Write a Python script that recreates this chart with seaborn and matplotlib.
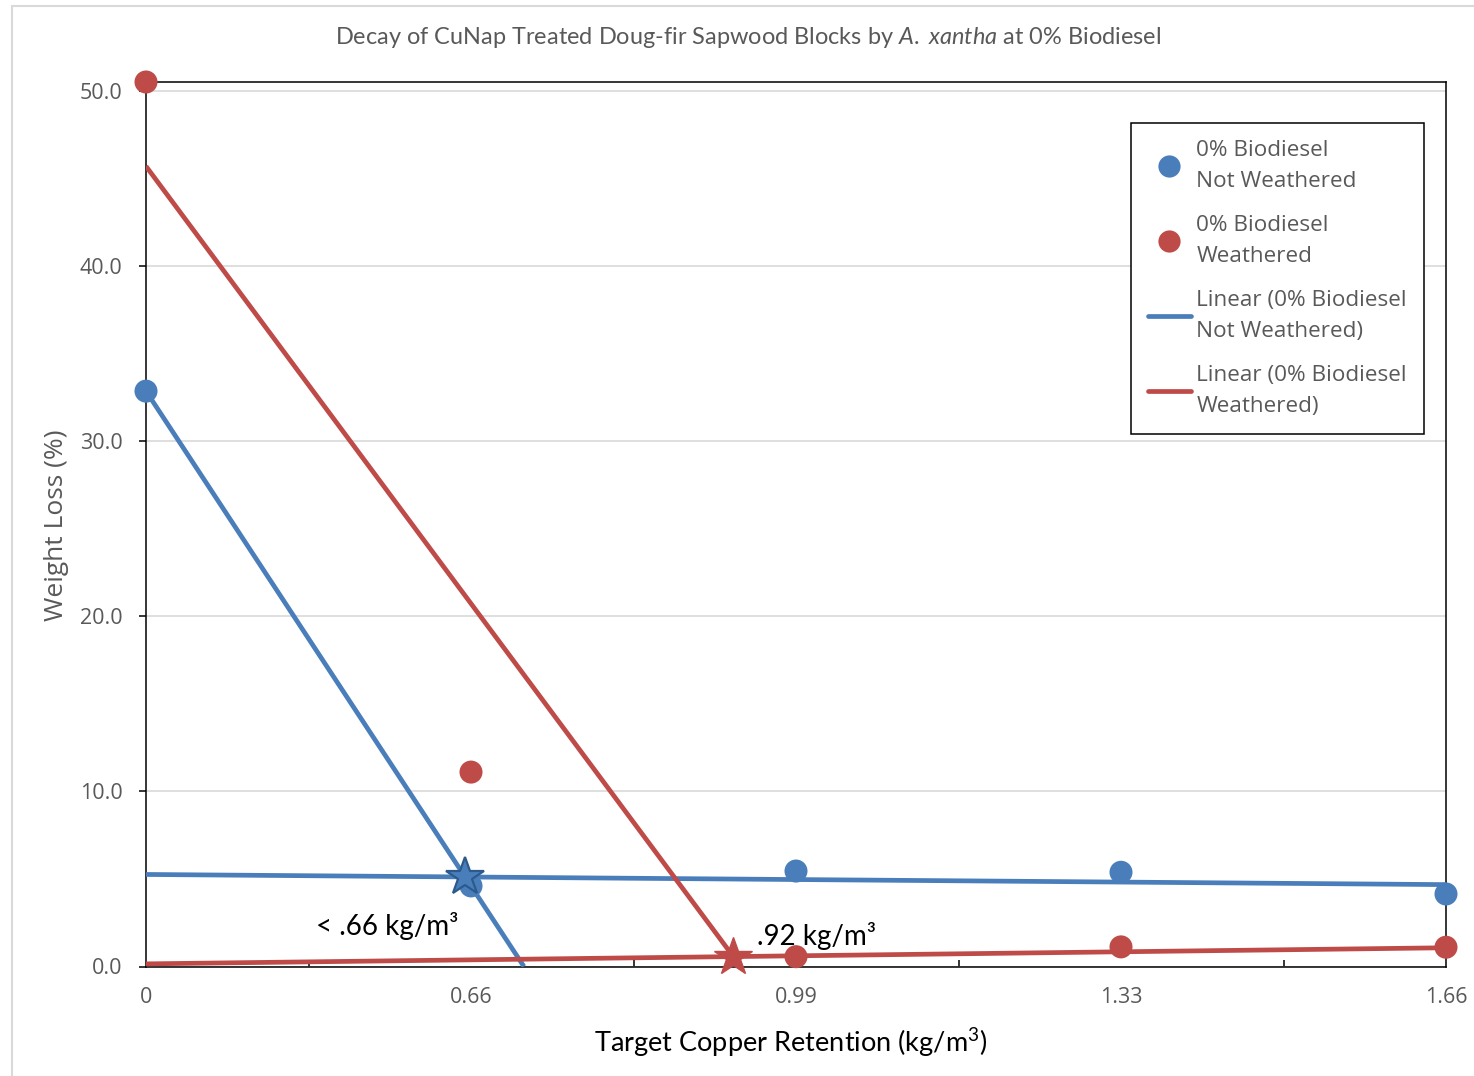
import numpy as np
import pandas as pd
import matplotlib
matplotlib.use("Agg")
import matplotlib.pyplot as plt
import seaborn as sns
from matplotlib.lines import Line2D
from matplotlib.patches import Rectangle

# ---- data -------------------------------------------------------------
retention_labels = ["0", "0.66", "0.99", "1.33", "1.66"]
retention = [0.0, 0.66, 0.99, 1.33, 1.66]
not_weathered = [32.85, 4.6, 5.45, 5.38, 4.14]
weathered = [50.5, 11.1, 0.56, 1.12, 1.1]
# linear trend of the weathered blocks at the treated retentions (at 0 and at 1.66)
weathered_low_trend = [0.15, 1.07]

BLUE = "#4A7EBB"
BLUE_DARK = "#2C5A8C"
RED = "#BE4B48"
GRAY = "#595959"

sns.set_theme(style="white")
plt.rcParams["font.family"] = ["Open Sans", "DejaVu Sans"]
plt.rcParams["mathtext.fontset"] = "custom"
plt.rcParams["mathtext.rm"] = "Lato"
plt.rcParams["mathtext.it"] = "Lato:italic"

W, H = 1474, 1076
fig = plt.figure(figsize=(W / 100, H / 100), dpi=100)
fig.patch.set_facecolor("white")
ax = fig.add_axes([146 / W, 1 - 966.5 / H, 1300 / W, 884.5 / H])

pos = np.arange(len(retention))
nw = np.array(not_weathered)
we = np.array(weathered)

# ---- trend lines (category-position scale) ---------------------------
nw_steep = np.polyfit(pos[:2], nw[:2], 1)
nw_flat = np.polyfit(pos[1:], nw[1:], 1)
we_steep = np.polyfit(pos[:3], we[:3], 1)
we_flat = np.array([(weathered_low_trend[1] - weathered_low_trend[0]) / pos[-1],
                    weathered_low_trend[0]])

nw_zero = -nw_steep[1] / nw_steep[0]
nw_cross = (nw_flat[1] - nw_steep[1]) / (nw_steep[0] - nw_flat[0])
we_cross = (we_flat[1] - we_steep[1]) / (we_steep[0] - we_flat[0])


def trend(coef, x0, x1):
    xs = np.array([x0, x1])
    return pd.DataFrame({"x": xs, "y": np.polyval(coef, xs)})


lw = 3.4
for coef, x0, x1, c in [
    (nw_steep, 0, nw_zero, BLUE),
    (nw_flat, 0, pos[-1], BLUE),
    (we_steep, 0, we_cross, RED),
    (we_flat, 0, pos[-1], RED),
]:
    d = trend(coef, x0, x1)
    sns.lineplot(data=d, x="x", y="y", color=c, lw=lw, ax=ax, zorder=3,
                 solid_capstyle="butt", sort=False)

# ---- data points -------------------------------------------------------
df = pd.DataFrame({"pos": np.concatenate([pos, pos]),
                   "loss": np.concatenate([nw, we]),
                   "series": ["Not Weathered"] * 5 + ["Weathered"] * 5})
sns.scatterplot(data=df, x="pos", y="loss", hue="series",
                palette={"Not Weathered": BLUE, "Weathered": RED},
                s=275, linewidth=0, ax=ax, zorder=4, legend=False, clip_on=False)

# ---- threshold stars ---------------------------------------------------
ax.plot([nw_cross], [np.polyval(nw_flat, nw_cross)], marker="*", ms=29,
        color=BLUE, mec=BLUE_DARK, mew=1.6, zorder=6, clip_on=False)
ax.plot([we_cross], [np.polyval(we_flat, we_cross)], marker="*", ms=29,
        color=RED, mec=RED, mew=1, zorder=6, clip_on=False)

ax.annotate("< .66 kg/m³", xy=(nw_cross, np.polyval(nw_flat, nw_cross)),
            xytext=(-56, -35), textcoords="offset points", ha="center",
            va="center", fontsize=20, family="Lato", color="black")
ax.annotate(".92 kg/m³", xy=(we_cross, np.polyval(we_flat, we_cross)),
            xytext=(60, 15), textcoords="offset points", ha="center",
            va="center", fontsize=20, family="Lato", color="black")

# ---- axes --------------------------------------------------------------
ax.set_xlim(0, pos[-1])
ax.set_ylim(0, 50.5)
ax.set_xticks(pos)
ax.set_xticklabels(retention_labels)
ax.set_xticks(pos[:-1] + 0.5, minor=True)
ax.set_yticks(np.arange(0, 51, 10))
ax.set_yticklabels([f"{v:.1f}" for v in np.arange(0, 51, 10)])
ax.yaxis.grid(True, color="#D9D9D9", lw=1.2)
ax.set_axisbelow(True)
for s in ax.spines.values():
    s.set_visible(True)
    s.set_color("black")
    s.set_linewidth(1.1)

ax.tick_params(axis="x", which="major", direction="out", length=5, width=1.1,
               color="black", pad=10, labelsize=15.5, labelcolor=GRAY)
ax.tick_params(axis="x", which="minor", direction="in", length=5, width=1.1,
               color="black", bottom=True)
ax.tick_params(axis="y", which="major", direction="out", length=5, width=1.1,
               color="black", pad=12, labelsize=15.5, labelcolor=GRAY, left=True)

ax.set_xlabel("")
ax.set_ylabel("")
fig.text(791 / W, 1 - 1043 / H, r"Target Copper Retention (kg/m$\mathregular{^3}$)",
         ha="center", va="center", fontsize=19.5, family="Lato", color="black")
fig.text(57 / W, 1 - 525 / H, "Weight Loss (%)", rotation=90, ha="center",
         va="center", fontsize=19, color=GRAY)
fig.text(748 / W, 1 - 37 / H,
         r"Decay of CuNap Treated Doug-fir Sapwood Blocks by $\mathit{A.\ xantha}$ at 0% Biodiesel",
         ha="center", va="center", fontsize=16.9, family="Lato", color=GRAY)

# ---- legend ------------------------------------------------------------
handles = [
    Line2D([], [], ls="none", marker="o", ms=16, color=BLUE, mew=0),
    Line2D([], [], ls="none", marker="o", ms=16, color=RED, mew=0),
    Line2D([], [], color=BLUE, lw=lw),
    Line2D([], [], color=RED, lw=lw),
]
labels = ["0% Biodiesel\nNot Weathered", "0% Biodiesel\nWeathered",
          "Linear (0% Biodiesel\nNot Weathered)", "Linear (0% Biodiesel\nWeathered)"]
leg = ax.legend(handles, labels, loc="upper left",
                bbox_to_anchor=(1131 / W, 1 - 123 / H),
                bbox_transform=fig.transFigure, borderaxespad=0,
                fontsize=16.2, frameon=True, fancybox=False, framealpha=1,
                edgecolor="black", handlelength=1.9, handletextpad=0.25,
                borderpad=0.75, labelspacing=1.0)
leg.get_frame().set_linewidth(1.1)
for t in leg.get_texts():
    t.set_color(GRAY)
    t.set_linespacing(1.65)

# outer chart border
fig.patches.append(Rectangle((12 / W, -0.02), 1.0, 1 - 5.5 / H + 0.02,
                             transform=fig.transFigure, fill=False,
                             edgecolor="#D9D9D9", lw=1.5))

fig.savefig("out.png", dpi=100, facecolor="white")
